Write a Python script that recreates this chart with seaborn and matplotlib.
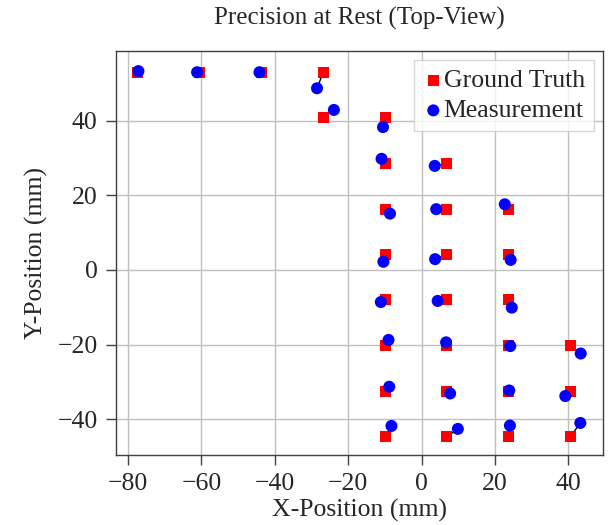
import numpy as np
import pandas as pd
import matplotlib
matplotlib.use("Agg")
import matplotlib.pyplot as plt
import seaborn as sns

gt_x = [-77.5, -60.6, -43.7, -26.8, -26.8,
        -9.9, -9.9, -9.9, -9.9, -9.9, -9.9, -9.9, -9.9,
        6.9, 6.9, 6.9, 6.9, 6.9, 6.9, 6.9,
        23.8, 23.8, 23.8, 23.8, 23.8, 23.8,
        40.6, 40.6, 40.6]
gt_y = [53.0, 53.0, 53.0, 53.0, 40.9,
        40.9, 28.6, 16.3, 4.2, -8.0, -20.3, -32.5, -44.7,
        28.6, 16.3, 4.2, -8.0, -20.3, -32.5, -44.7,
        16.3, 4.2, -8.0, -20.3, -32.5, -44.7,
        -20.3, -32.5, -44.7]
ms_x = [-77.2, -61.2, -44.2, -28.5, -23.9,
        -10.5, -10.9, -8.6, -10.4, -11.1, -9.0, -8.8, -8.2,
        3.6, 4.0, 3.7, 4.4, 6.7, 7.8, 9.9,
        22.7, 24.3, 24.6, 24.2, 23.9, 24.1,
        43.4, 39.2, 43.3]
ms_y = [53.3, 53.0, 53.0, 48.7, 42.9,
        38.3, 29.8, 15.1, 2.2, -8.6, -18.75, -31.3, -41.8,
        27.9, 16.3, 2.9, -8.3, -19.4, -33.1, -42.6,
        17.6, 2.7, -10.1, -20.4, -32.3, -41.7,
        -22.4, -33.8, -41.0]

x_ticks = [-80, -60, -40, -20, 0, 20, 40]
y_ticks = [-40, -20, 0, 20, 40]

gt = pd.DataFrame({"x": gt_x, "y": gt_y})
ms = pd.DataFrame({"x": ms_x, "y": ms_y})

sns.set_theme(style="whitegrid")
plt.rcParams["font.family"] = ["Liberation Serif", "DejaVu Serif"]
plt.rcParams["mathtext.fontset"] = "stix"

fig = plt.figure(figsize=(6.13, 5.25), dpi=100)
ax = fig.add_axes([0.1887, 0.1333, 0.7945, 0.7696])

for x0, y0, x1, y1 in zip(gt_x, gt_y, ms_x, ms_y):
    ax.plot([x0, x1], [y0, y1], color="black", lw=1.0, zorder=2)

sns.scatterplot(data=gt, x="x", y="y", ax=ax, marker="s", s=62, color="#ff0000",
                edgecolor="none", label="Ground Truth", zorder=3)
sns.scatterplot(data=ms, x="x", y="y", ax=ax, marker="o", s=75, color="#0000ff",
                edgecolor="none", label="Measurement", zorder=4)

ax.set_xlim(-83.4, 49.4)
ax.set_ylim(-49.6, 58.7)
ax.set_xticks(x_ticks)
ax.set_yticks(y_ticks)
ax.grid(True, color="#c0c0c0", lw=1.0)
ax.set_facecolor("white")
for sp in ax.spines.values():
    sp.set_color("#404040")
    sp.set_linewidth(1.0)
ax.tick_params(axis="both", which="both", direction="out", length=7, width=1,
               color="#404040", labelsize=18.5, bottom=True, left=True)
ax.tick_params(axis="x", pad=6)
ax.tick_params(axis="y", pad=6)
ax.set_xlabel("X-Position (mm)", fontsize=18.5, labelpad=3)
ax.set_ylabel("Y-Position (mm)", fontsize=18.5, labelpad=7)
ax.set_title("Precision at Rest (Top-View)", fontsize=18, pad=19)

leg = ax.legend(loc="upper right", fontsize=18.5, frameon=True, handletextpad=0.0,
                handlelength=0.8, borderpad=0.35, labelspacing=0.28,
                borderaxespad=0.35, fancybox=False, markerscale=1.0)
leg.get_frame().set_edgecolor("#cccccc")
leg.get_frame().set_linewidth(1.0)
leg.get_frame().set_alpha(0.8)

fig.savefig("out.png", dpi=100)
